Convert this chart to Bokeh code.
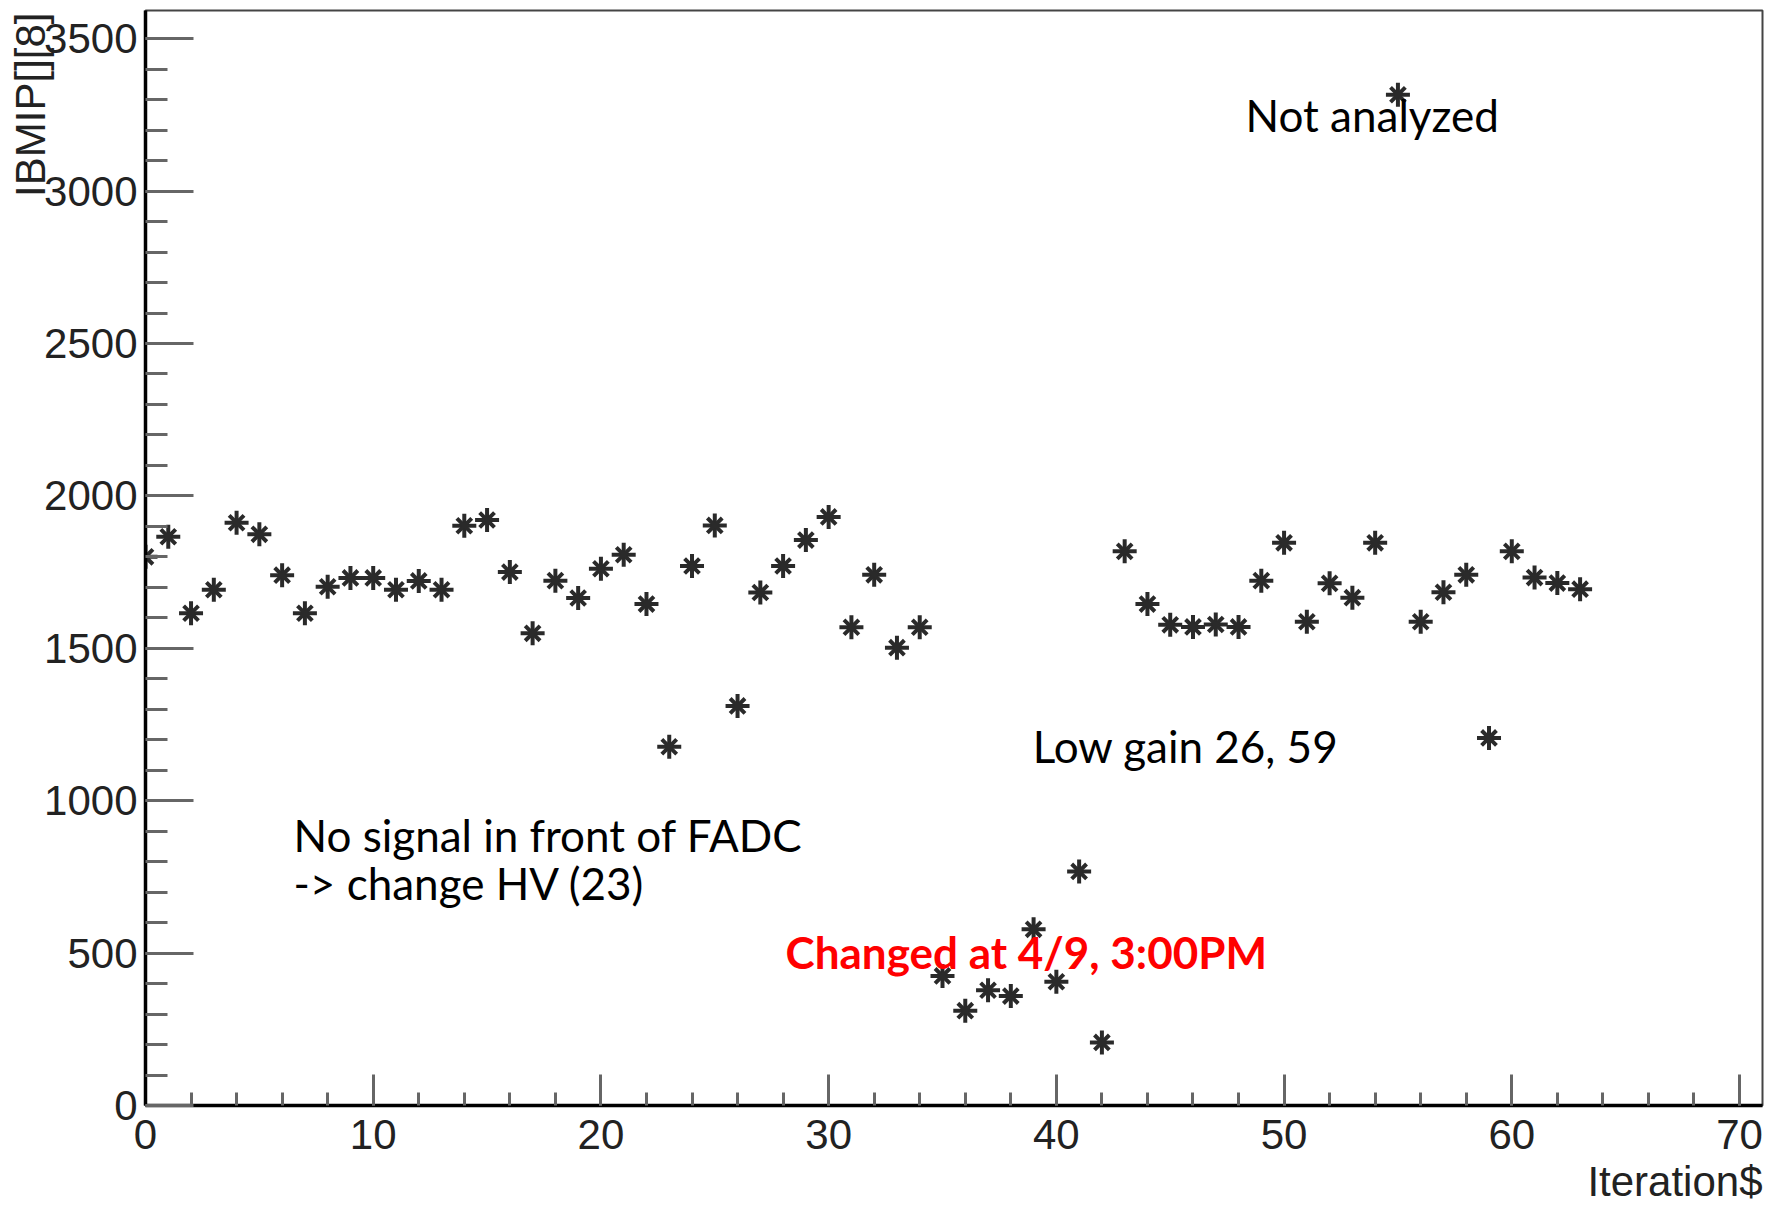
import numpy as np
from bokeh.plotting import figure
from bokeh.models import Label, SingleIntervalTicker, Range1d, Title
from bokeh.embed import file_html
from bokeh.resources import INLINE

iteration = list(range(64))
ibmip = [1800, 1866, 1615, 1692, 1912, 1874, 1740, 1615, 1702, 1731,
         1731, 1692, 1721, 1692, 1902, 1921, 1750, 1549, 1722, 1665,
         1761, 1807, 1645, 1177, 1770, 1903, 1311, 1683, 1770, 1855,
         1931, 1569, 1741, 1502, 1569, 425, 311, 378, 359, 578,
         406, 768, 207, 1818, 1645, 1577, 1570, 1578, 1570, 1722,
         1846, 1587, 1713, 1666, 1846, 3316, 1587, 1684, 1741, 1206,
         1818, 1732, 1714, 1694]

x_title = "Iteration$"
y_title = "IBMIP[][8]"

annotations = ["Not analyzed", "Low gain 26, 59", "No signal in front of FADC",
               "-> change HV (23)"]
red_note = "Changed at 4/9, 3:00PM"

p = figure(width=1780, height=1209, output_backend="svg", toolbar_location=None,
           x_range=Range1d(0, 71.01), y_range=Range1d(0, 3592.5),
           min_border_left=145, min_border_right=18, min_border_top=10,
           min_border_bottom=104)
p.background_fill_color = "white"
p.border_fill_color = "white"
p.outline_line_color = "#444444"
p.outline_line_width = 2
p.grid.visible = False

FONT = "Liberation Sans"

# x axis
xa = p.xaxis[0]
xa.ticker = SingleIntervalTicker(interval=10, num_minor_ticks=5)
xa.axis_line_color = "black"
xa.axis_line_width = 3.5
xa.major_tick_in = 31
xa.major_tick_out = 0
xa.minor_tick_in = 13
xa.minor_tick_out = 0
xa.major_tick_line_color = "#666666"
xa.minor_tick_line_color = "#666666"
xa.major_tick_line_width = 3
xa.minor_tick_line_width = 3
xa.major_label_text_font = FONT
xa.major_label_text_font_size = "42px"
xa.major_label_text_color = "#222222"
xa.major_label_standoff = 14

# y axis
ya = p.yaxis[0]
ya.ticker = SingleIntervalTicker(interval=500, num_minor_ticks=5)
ya.axis_line_color = "black"
ya.axis_line_width = 3.5
ya.major_tick_in = 48
ya.major_tick_out = 0
ya.minor_tick_in = 22
ya.minor_tick_out = 0
ya.major_tick_line_color = "#666666"
ya.minor_tick_line_color = "#666666"
ya.major_tick_line_width = 3
ya.minor_tick_line_width = 3
ya.major_label_text_font = FONT
ya.major_label_text_font_size = "42px"
ya.major_label_text_color = "#222222"
ya.major_label_standoff = 8

# axis titles at the far ends of the axes (ROOT style)
xt = Title(text=x_title, align="right", vertical_align="bottom", text_font=FONT,
           text_font_size="42px", text_font_style="normal", text_color="#222222",
           offset=0, standoff=9)
yt = Title(text=y_title, align="right", vertical_align="bottom", text_font=FONT,
           text_font_size="42px", text_font_style="normal", text_color="#222222",
           offset=2, standoff=-24)
p.add_layout(xt, "below")
p.add_layout(yt, "left")

# markers (ROOT style 3 asterisk: + and x combined)
p.scatter(iteration, ibmip, marker="cross", size=24, line_color="#2a2a2a", line_width=4)
p.scatter(iteration, ibmip, marker="x", size=21, line_color="#2a2a2a", line_width=4)

ANN = "Lato"
ann_pos = [(48.31, 3250), (38.96, 1180), (6.50, 887), (6.50, 729)]
for t, (ax, ay) in zip(annotations, ann_pos):
    p.add_layout(Label(x=ax, y=ay, text=t, text_align="left", text_baseline="alphabetic",
                       text_font=ANN, text_font_size="44px", text_color="black"))
p.add_layout(Label(x=28.11, y=503, text=red_note, text_align="left",
                   text_baseline="alphabetic", text_font=ANN, text_font_style="bold",
                   text_font_size="44px", text_color="#ff0000"))

open("out.html", "w").write(file_html(p, INLINE))
